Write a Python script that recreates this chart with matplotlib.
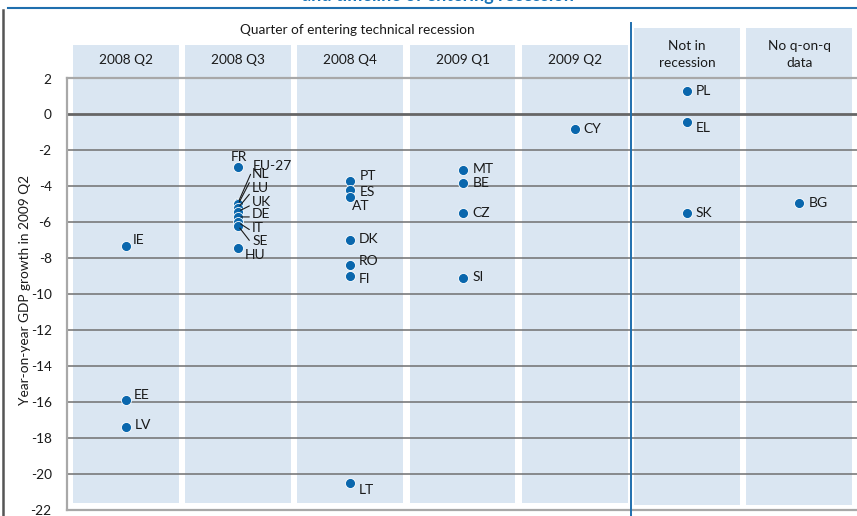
import matplotlib
matplotlib.use("Agg")
import matplotlib.pyplot as plt
from matplotlib.patches import Rectangle
from matplotlib.lines import Line2D

# ---------------- data ----------------
columns = ["2008 Q2", "2008 Q3", "2008 Q4", "2009 Q1", "2009 Q2",
           "Not in\nrecession", "No q-on-q\ndata"]
group_header = "Quarter of entering technical recession"
title = "and timeline of entering recession"
ylabel = "Year-on-year GDP growth in 2009 Q2"

countries = ["IE", "EE", "LV",
             "FR", "EU-27", "NL", "LU", "UK", "DE", "IT", "SE", "HU",
             "PT", "ES", "AT", "DK", "RO", "FI", "LT",
             "MT", "BE", "CZ", "SI",
             "CY",
             "PL", "EL", "SK",
             "BG"]
column_index = [0, 0, 0,
                1, 1, 1, 1, 1, 1, 1, 1, 1,
                2, 2, 2, 2, 2, 2, 2,
                3, 3, 3, 3,
                4,
                5, 5, 5,
                6]
growth = [-7.3, -15.9, -17.4,
          -2.9, -4.9, -5.0, -5.2, -5.4, -5.7, -6.0, -6.2, -7.4,
          -3.7, -4.2, -4.6, -7.0, -8.4, -9.0, -20.5,
          -3.1, -3.8, -5.5, -9.1,
          -0.8,
          1.3, -0.4, -5.5,
          -4.9]
yticks = list(range(2, -23, -2))

# ---------------- styles / label placement (pixels) ----------------
BLUE = "#0a67ad"
PANEL = "#dae6f2"
GRID = "#707070"
label_offset = {
    "IE": (7, 6), "EE": (8, 5), "LV": (9, 2),
    "FR": (-7, 10), "HU": (7, -7),
    "PT": (9, 5), "ES": (9, -2), "AT": (2, -9), "DK": (8, 1),
    "RO": (8, 4), "FI": (8, -3), "LT": (8, -7),
    "MT": (10, 1), "BE": (10, 0), "CZ": (10, 0), "SI": (10, 1),
    "CY": (9, 0), "PL": (9, 0), "EL": (9, -6), "SK": (9, 0), "BG": (10, 0),
}
# cluster labels with leader lines: (dx px, dy px relative to point)
leader_offset = {
    "EU-27": (15, 37), "NL": (14, 30), "LU": (14, 20), "UK": (14, 10),
    "DE": (14, 3), "IT": (14, -6), "SE": (14, -15),
}

plt.rcParams["font.family"] = ["Lato", "DejaVu Sans"]

fig = plt.figure(figsize=(8.57, 5.16), dpi=100)
ax = fig.add_axes([67 / 857, 6 / 516, 790 / 857, 431.5 / 516])
ax.set_xlim(-0.525, 6.516)
ax.set_ylim(-22, 2)

# panels
for i, name in enumerate(columns):
    top = 4.81 if i >= 5 else 3.87
    bottom = -21.72 if i >= 5 else -21.61
    ax.add_patch(Rectangle((i - 0.472, bottom), 0.944, top - bottom,
                           facecolor=PANEL, edgecolor="none", zorder=0,
                           clip_on=False))
    ty = 3.36 if i >= 5 else 3.03
    ax.text(i, ty, name, ha="center", va="center", fontsize=9.8,
            color="#1a1a1a", linespacing=1.5, clip_on=False, zorder=3)

ax.text(2.06, 4.7, group_header, ha="center", va="center", fontsize=9.8,
        color="#1a1a1a", clip_on=False)

# gridlines
for t in yticks:
    if t == 0:
        ax.axhline(t, color="#666666", lw=2.0, zorder=2)
    elif t in (2, -22):
        ax.axhline(t, color="#a8a8a8", lw=1.6, zorder=2, clip_on=False)
    else:
        ax.axhline(t, color=GRID, lw=1.1, zorder=2)

# separator between recession timing and other groups
ax.plot([4.5, 4.5], [5.1, -22.4], color="#1f6fae", lw=1.4, zorder=2,
        clip_on=False)

# points
xs = [column_index[k] for k in range(len(countries))]
ax.scatter(xs, growth, s=52, color=BLUE, edgecolors="white",
           linewidths=0.6, zorder=5)

for c, x, v in zip(countries, xs, growth):
    if c in label_offset:
        dx, dy = label_offset[c]
        ax.annotate(c, (x, v), xytext=(dx, dy), textcoords="offset pixels",
                    ha="left", va="center", fontsize=10, color="#1a1a1a",
                    zorder=6)
    else:
        dx, dy = leader_offset[c]
        ax.annotate(c, (x, v), xytext=(dx, dy), textcoords="offset pixels",
                    ha="left", va="center", fontsize=10, color="#1a1a1a",
                    zorder=6,
                    arrowprops=dict(arrowstyle="-", color="#1a1a1a", lw=0.8,
                                    shrinkA=0, shrinkB=2,
                                    relpos=(0.0, 0.25)))

# axes cosmetics
for s in ("top", "right", "bottom"):
    ax.spines[s].set_visible(False)
ax.spines["left"].set_color("#a8a8a8")
ax.spines["left"].set_linewidth(1.6)
ax.set_xticks([])
ax.set_yticks(yticks)
ax.set_yticklabels([str(t) for t in yticks])
ax.tick_params(axis="y", length=0, pad=11, labelsize=9.8, labelcolor="#1a1a1a")
ax.set_ylabel(ylabel, fontsize=9.8, color="#1a1a1a")
ax.yaxis.set_label_coords(-0.045, 0.51)
ax.set_facecolor("none")

# figure decorations: cut-off title, rule and left border
fig.text(438 / 857, 1 - 1 / 516, title, ha="center", va="baseline",
         fontsize=13, fontweight="bold", color="#1a75b8")
fig.add_artist(Line2D([8 / 857, 1], [1 - 8 / 516, 1 - 8 / 516],
                      color="#1f6fae", lw=1.5))
fig.add_artist(Line2D([3 / 857, 3 / 857], [0, 1 - 10 / 516],
                      color="#555555", lw=1.8))

fig.savefig("out.png", dpi=100, facecolor="white")
